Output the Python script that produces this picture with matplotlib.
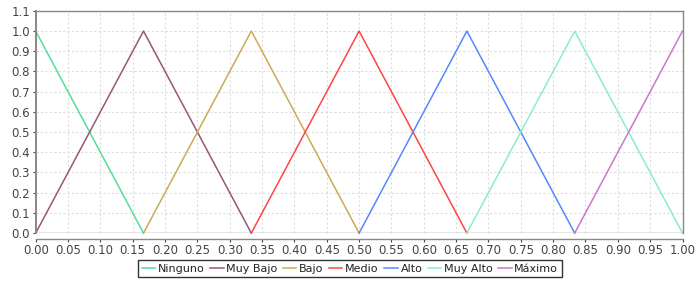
import matplotlib
matplotlib.use('Agg')
import matplotlib.pyplot as plt
import numpy as np

# membership functions (x breakpoints, y values)
labels = ['Ninguno', 'Muy Bajo', 'Bajo', 'Medio', 'Alto', 'Muy Alto', 'Máximo']
colors = ['#55dd99', '#995577', '#ccaa55', '#ff4444', '#5588ff', '#88eecc', '#cc77cc']
xs = [
    [0.0, 1/6],
    [0.0, 1/6, 2/6],
    [1/6, 2/6, 3/6],
    [2/6, 3/6, 4/6],
    [3/6, 4/6, 5/6],
    [4/6, 5/6, 1.0],
    [5/6, 1.0],
]
ys = [
    [1.0, 0.0],
    [0.0, 1.0, 0.0],
    [0.0, 1.0, 0.0],
    [0.0, 1.0, 0.0],
    [0.0, 1.0, 0.0],
    [0.0, 1.0, 0.0],
    [0.0, 1.0],
]
x_ticks = np.round(np.arange(0, 1.0001, 0.05), 2)
y_ticks = np.round(np.arange(0, 1.1001, 0.1), 1)

plt.rcParams['font.family'] = ['DejaVu Sans']
fig = plt.figure(figsize=(7, 2.86), dpi=100)
ax = fig.add_axes([0.051, 0.185, 0.924, 0.777])

for x, y, lab, c in zip(xs, ys, labels, colors):
    ax.plot(x, y, color=c, lw=1.1, label=lab, clip_on=False)

ax.set_xlim(0, 1)
ax.set_ylim(0, 1.1)
ax.set_xticks(x_ticks)
ax.set_xticklabels([f'{v:.2f}' for v in x_ticks])
ax.set_yticks(y_ticks)
ax.set_yticklabels([f'{v:.1f}' for v in y_ticks])
ax.tick_params(labelsize=8.5, colors='#444444', length=2, width=0.8, pad=2)
ax.grid(True, color='#dddddd', linestyle=(0, (2, 2)), lw=0.8)
ax.set_axisbelow(True)

for s in ['top', 'right']:
    ax.spines[s].set_color('#888888')
    ax.spines[s].set_linewidth(1.0)
ax.spines['left'].set_color('#888888')
ax.spines['left'].set_linewidth(1.4)
ax.spines['bottom'].set_color('#888888')
ax.spines['bottom'].set_linewidth(1.0)
ax.axhline(0, color='#888888', lw=1.0, zorder=1)
ax.spines['bottom'].set_position(('outward', 4))

leg = fig.legend(loc='lower center', bbox_to_anchor=(0.5, 0.02), ncol=7, fontsize=8,
                 frameon=True, fancybox=False, handlelength=1.2, handletextpad=0.25,
                 columnspacing=0.5, borderpad=0.3, borderaxespad=0.3)
leg.get_frame().set_edgecolor('black')
leg.get_frame().set_linewidth(1.0)
for t in leg.get_texts():
    t.set_color('#222222')

fig.savefig('out.png', dpi=100, facecolor='white')
